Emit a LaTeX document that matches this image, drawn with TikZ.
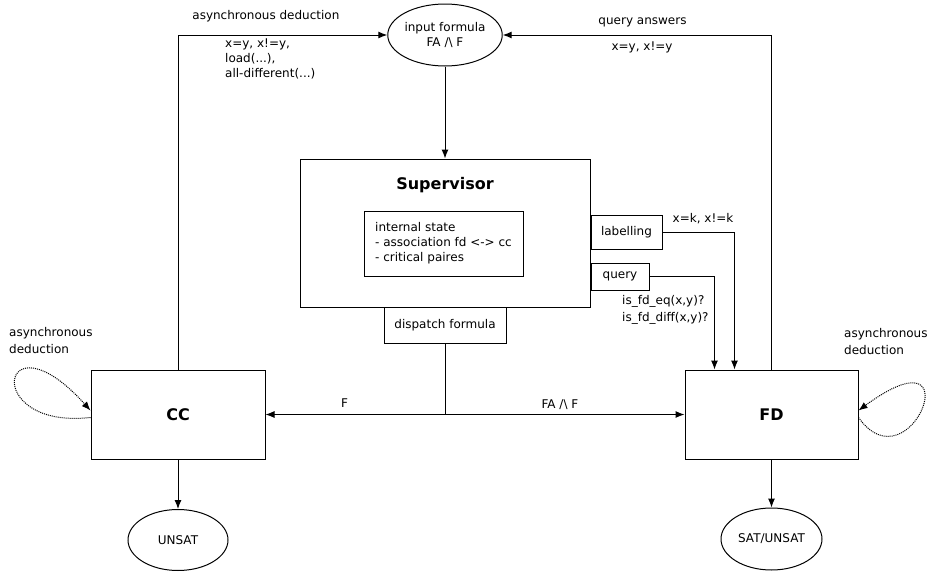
\documentclass[tikz,border=0pt]{standalone}
\usepackage{fontspec}
\setmainfont{DejaVu Sans}
\usetikzlibrary{positioning}
\usetikzlibrary{shapes.geometric, arrows.meta}

\tikzset{
    block/.style={draw, rectangle, line width=1pt, inner sep=0pt},
    round/.style={draw, ellipse, line width=1pt, inner sep=0pt, align=center},
    conn/.style={line width=1pt, -{Latex[length=9pt,width=7pt]}},
    deduc/.style={line width=1pt, dash pattern=on 1pt off 1pt, -{Latex[length=9pt,width=7pt]}},
    lbl/.style={inner sep=0pt, align=left, font=\fontsize{12}{15}\selectfont},
    title/.style={font=\fontsize{16}{19}\selectfont\bfseries}
}

\begin{document}
\begin{tikzpicture}[x=1pt, y=-1pt, font=\fontsize{12}{15}\selectfont]
        \useasboundingbox (0,0) rectangle (935,573);
        % formula and supervisor
        \node
        [
            round,
            minimum width=100pt,
            minimum height=62pt
        ] (input) at (445, 35) {input formula\\FA /\textbackslash{} F};
        \node
        [
            block,
            minimum width=290pt,
            minimum height=148pt
        ] (sup) at (445, 233) {};
        \node [title] (suptitle) at (445, 185) {Supervisor};
        \node
        [
            block,
            align=left,
            minimum width=159pt,
            minimum height=65pt
        ] (state) at (443.5, 243.5) {internal state\\- association fd <-> cc\\- critical paires};
        \node
        [
            block,
            minimum width=71pt,
            minimum height=34pt
        ] (labelling) at (626.5, 232) {labelling};
        \node
        [
            block,
            minimum width=58pt,
            minimum height=27pt
        ] (query) at (620, 276.5) {query};
        \node
        [
            block,
            minimum width=122pt,
            minimum height=36pt
        ] (dispatch) at (445, 325) {dispatch formula};
        % solvers
        \node
        [
            block,
            title,
            minimum width=174pt,
            minimum height=89pt
        ] (cc) at (178, 414.5) {CC};
        \node
        [
            block,
            title,
            minimum width=173pt,
            minimum height=89pt
        ] (fd) at (771.5, 414.5) {FD};
        \node
        [
            round,
            minimum width=100pt,
            minimum height=61pt
        ] (unsat) at (178, 540) {UNSAT};
        \node
        [
            round,
            minimum width=101pt,
            minimum height=62pt
        ] (satunsat) at (771.5, 539) {SAT/UNSAT};

        \draw[conn] (input) -- (sup);
        \draw[conn] (cc.north) |- (input.west)
            node [lbl, pos=0.71, above=13pt] {asynchronous deduction};
        \draw[conn] (fd.north) |- (input.east)
            node [lbl, pos=0.74, above=8pt] {query answers};
        \node [lbl, anchor=north west] (ccout) at (225, 39) {x=y, x!=y,\\load(...),\\all-different(...)};
        \node [lbl] (fdout) at (642, 47) {x=y, x!=y};

        \draw[conn] (dispatch.south) |- (cc.east) node [lbl, pos=0.78, above=7pt] {F};
        \draw[conn] (dispatch.south) |- (fd.west) node [lbl, pos=0.74, above=4pt] {FA /\textbackslash{} F};

        \draw[conn] (labelling.east) -| ([xshift=50pt]fd.north west);
        \node [lbl] (labout) at (703, 219) {x=k, x!=k};
        \draw[conn] (query.east) -| ([xshift=30pt]fd.north west);
        \node [lbl, anchor=north west, font=\fontsize{12}{17}\selectfont] (queryout) at (622, 295) {is\_fd\_eq(x,y)?\\is\_fd\_diff(x,y)?};

        \draw[conn] (cc) -- (unsat);
        \draw[conn] (fd) -- (satunsat);

        % asynchronous deductions
        \draw[deduc] ([yshift=-3pt]cc.west) .. controls (-20, 430) and (0, 310) .. ([yshift=4pt]cc.west);
        \node [lbl, anchor=north west, font=\fontsize{12}{17}\selectfont] (ccdeduc) at (9, 327) {asynchronous\\deduction};
        \draw[deduc] ([yshift=-3pt]fd.east) .. controls (910, 490) and (975, 325) .. ([yshift=4pt]fd.east);
        \node [lbl, anchor=north west, font=\fontsize{12}{17}\selectfont] (fddeduc) at (844, 328) {asynchronous\\deduction};
    \end{tikzpicture}
\end{document}
